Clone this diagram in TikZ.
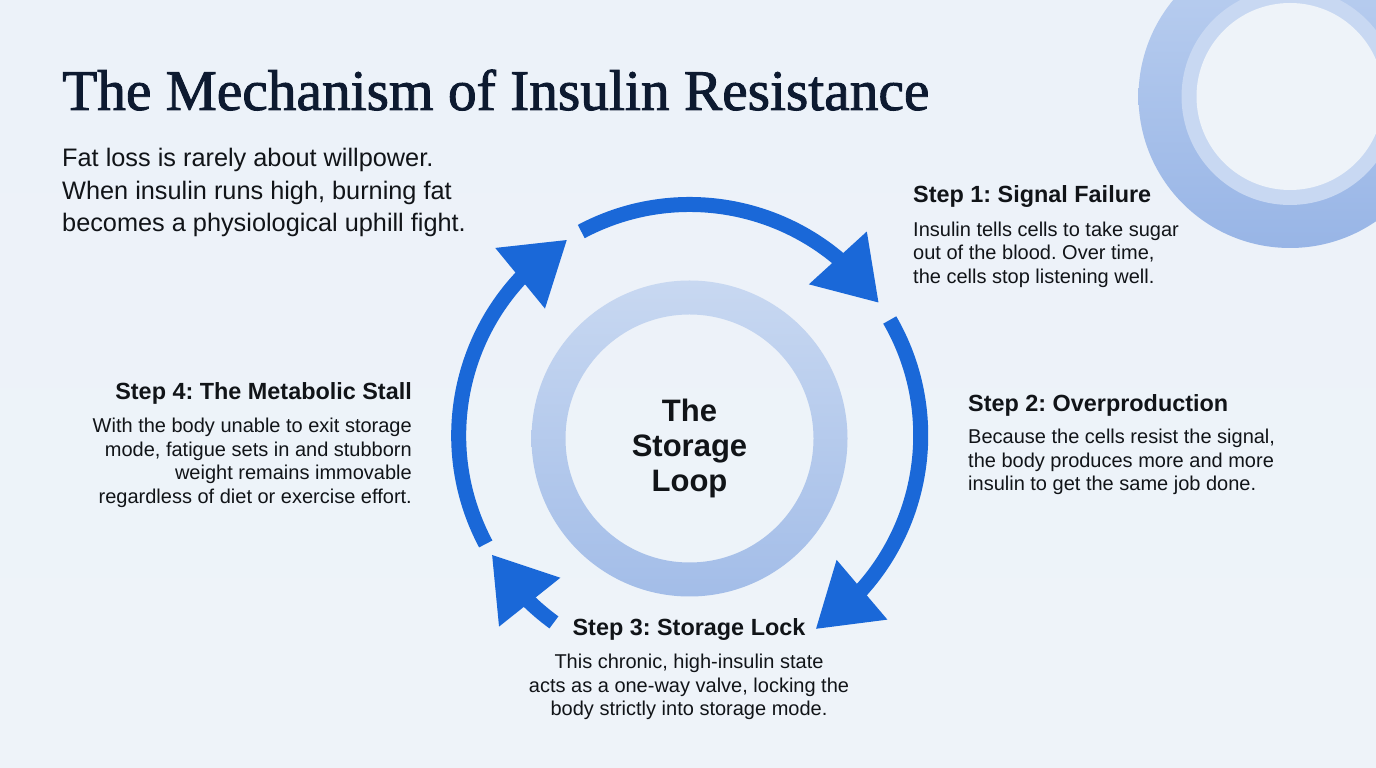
\documentclass[tikz,border=0pt]{standalone}
\usepackage{fontspec}
\setmainfont{Liberation Sans}
\newfontfamily\titlefont[FakeBold=1.6]{Liberation Serif}
\usetikzlibrary{arrows.meta,bending}
\frenchspacing
\definecolor{bgcol}{HTML}{ECF2F9}
\definecolor{bgcolb}{HTML}{EEF3F9}
\definecolor{arrowblue}{HTML}{1A68D8}
\definecolor{ringtop}{HTML}{C8D8F1}
\definecolor{ringbot}{HTML}{A3BDE8}
\definecolor{decotop}{HTML}{BCD0F0}
\definecolor{decobot}{HTML}{98B5E6}
\definecolor{decomid}{HTML}{C8D8F2}
\definecolor{titlecol}{HTML}{0D1A30}
\definecolor{textcol}{HTML}{111418}
\tikzset{
  loop arrow/.style={draw=arrowblue, line width=15pt, line cap=butt,
    -{Triangle[length=61pt,width=74pt,flex]}},
  headtext/.style={inner sep=0pt, text=textcol, font=\fontsize{23.4}{26}\selectfont\bfseries\frenchspacing},
  bodytext/.style={inner sep=0pt, text=textcol, font=\fontsize{20}{23.6}\selectfont\frenchspacing},
}
\begin{document}
\begin{tikzpicture}[x=1pt,y=1pt]
\useasboundingbox (0,0) rectangle (1376,768);
\clip (0,0) rectangle (1376,768);
% background
\shade[top color=bgcol, bottom color=bgcolb] (0,0) rectangle (1376,768);
% decorative ring top right
\coordinate (D) at (1290,671.5);
\shade[top color=decotop, bottom color=decobot] (D) circle[radius=151.5];
\fill[decomid] (D) circle[radius=108.5];
\fill[bgcolb] (D) circle[radius=93.5];
% central ring
\coordinate (R) at (689.5,329.5);
\path[even odd rule, top color=ringtop, bottom color=ringbot] (R) circle[radius=158] (R) circle[radius=124];
% arcs
\coordinate (C) at (689.7,332.5);
\draw[loop arrow] ([shift={(118:231)}]C) arc[start angle=118, end angle=35, radius=231];
\draw[loop arrow] ([shift={(30:231)}]C) arc[start angle=30, end angle=-57, radius=231];
\draw[loop arrow] ([shift={(234:231)}]C) arc[start angle=234, end angle=211, radius=231];
\draw[loop arrow] ([shift={(208:231)}]C) arc[start angle=208, end angle=122, radius=231];
% title
\node[anchor=base west, inner sep=0pt, text=titlecol, font=\titlefont\fontsize{57.4}{60}\selectfont] (title) at (62,658) {The Mechanism of Insulin Resistance};
% subtitle (anchor = baseline of last line)
\node[anchor=base west, inner sep=0pt, text=textcol, align=left, font=\fontsize{25.3}{32.5}\selectfont\frenchspacing] (sub) at (62,536.3) {Fat loss is rarely about willpower.\\When insulin runs high, burning fat\\becomes a physiological uphill fight.};
% center
\node[anchor=base, inner sep=0pt, text=textcol, align=center, font=\fontsize{31}{35}\selectfont\bfseries] (centre) at (689.5,276) {The\\Storage\\Loop};
% step 1
\node[headtext, anchor=base west] (s1h) at (913,565) {Step 1: Signal Failure};
\node[bodytext, anchor=base west, align=left] (s1b) at (913,484.5) {Insulin tells cells to take sugar\\out of the blood. Over time,\\the cells stop listening well.};
% step 2
\node[headtext, anchor=base west] (s2h) at (968,356) {Step 2: Overproduction};
\node[bodytext, anchor=base west, align=left] (s2b) at (968,277) {Because the cells resist the signal,\\the body produces more and more\\insulin to get the same job done.};
% step 3
\node[headtext, anchor=base] (s3h) at (689,132) {Step 3: Storage Lock};
\node[bodytext, anchor=base, align=center] (s3b) at (689,52) {This chronic, high-insulin state\\acts as a one-way valve, locking the\\body strictly into storage mode.};
% step 4
\node[headtext, anchor=base east] (s4h) at (412,368) {Step 4: The Metabolic Stall};
\node[bodytext, anchor=base east, align=right] (s4b) at (412,264.5) {With the body unable to exit storage\\mode, fatigue sets in and stubborn\\weight remains immovable\\regardless of diet or exercise effort.};
\end{tikzpicture}
\end{document}
